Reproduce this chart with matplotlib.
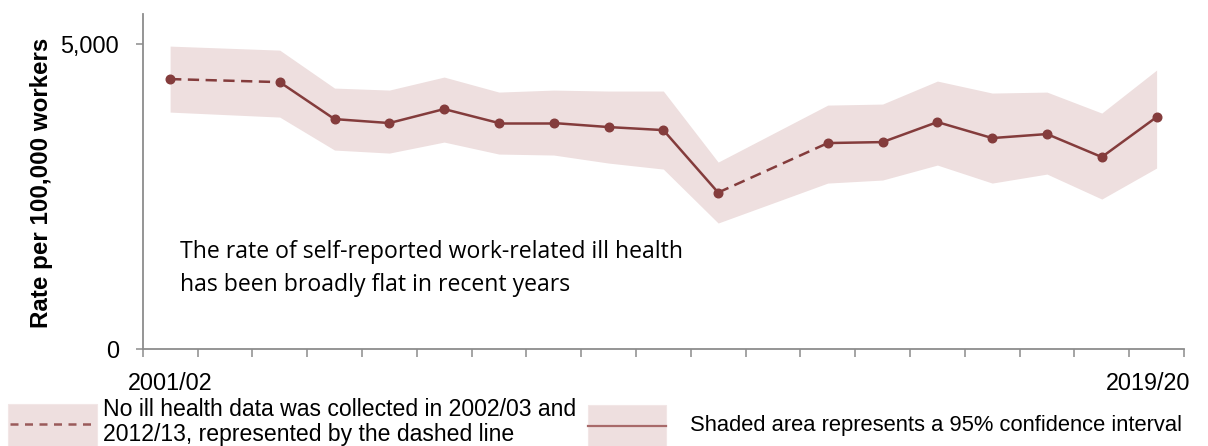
import matplotlib
matplotlib.use("Agg")
import matplotlib.pyplot as plt
import matplotlib.transforms as mtransforms
import numpy as np
from matplotlib.patches import Rectangle
from matplotlib.lines import Line2D

years = ["2001/02", "2002/03", "2003/04", "2004/05", "2005/06", "2006/07", "2007/08",
         "2008/09", "2009/10", "2010/11", "2011/12", "2012/13", "2013/14", "2014/15",
         "2015/16", "2016/17", "2017/18", "2018/19", "2019/20"]
# None = no data collected that year
rate = [4430, None, 4380, 3772, 3707, 3937, 3707, 3707, 3641, 3591, 2564, None,
        3378, 3394, 3723, 3460, 3526, 3148, 3805]
upper = [4972, None, 4906, 4282, 4249, 4463, 4216, 4249, 4233, 4233, 3065, None,
         4002, 4019, 4397, 4200, 4216, 3871, 4578]
lower = [3887, None, 3805, 3263, 3213, 3394, 3197, 3181, 3049, 2950, 2063, None,
         2720, 2770, 3016, 2720, 2868, 2457, 2967]
shown_labels = {0: "2001/02", 18: "2019/20"}

LINE = "#843C3C"
BAND = "#EEDFDF"
AXC = "#8C8C8C"

W, H = 1208, 446
fig = plt.figure(figsize=(W / 100, H / 100), dpi=100)
ax = fig.add_axes([142.7 / W, 1 - 348.5 / H, (1184 - 142.7) / W, (348.5 - 14) / H])

idx = [i for i, v in enumerate(rate) if v is not None]
xs = np.array(idx)
ys = np.array([rate[i] for i in idx])
up = np.array([upper[i] for i in idx])
lo = np.array([lower[i] for i in idx])

ax.fill_between(xs, lo, up, color=BAND, linewidth=0, zorder=1)
for a, b in zip(range(len(xs) - 1), range(1, len(xs))):
    gap = xs[b] - xs[a] > 1
    ax.plot(xs[[a, b]], ys[[a, b]], color=LINE, lw=1.8,
            linestyle=(0, (4.5, 2.6)) if gap else "-", zorder=2, solid_capstyle="butt")
ax.plot(xs, ys, linestyle="none", marker="o", ms=6.2, color=LINE, zorder=3)

ax.set_xlim(-0.5, len(years) - 0.5)
ax.set_ylim(0, 5500)
ax.set_xticks(np.arange(-0.5, len(years), 1.0))
ax.set_xticklabels([])
ax.set_xticks(list(shown_labels.keys()), minor=True)
ax.set_xticklabels(list(shown_labels.values()), minor=True)
ax.tick_params(axis="x", which="major", length=6, width=1.1, color=AXC, direction="out")
ax.tick_params(axis="x", which="minor", length=0, pad=17, labelsize=16.8)
ax.set_yticks([0, 5000])
ax.set_yticklabels(["0", "5,000"])
ax.tick_params(axis="y", length=5, width=1.1, color=AXC, pad=12, labelsize=16.8)
for lab in ax.get_xticklabels(minor=True) + ax.get_yticklabels():
    lab.set_fontfamily("Liberation Sans")
last = ax.get_xticklabels(minor=True)[-1]
last.set_transform(last.get_transform() +
                   mtransforms.ScaledTranslation(-8 / 100, 0, fig.dpi_scale_trans))
for s in ["top", "right"]:
    ax.spines[s].set_visible(False)
for s in ["left", "bottom"]:
    ax.spines[s].set_color(AXC)
    ax.spines[s].set_linewidth(1.3)

fig.text(42 / W, 1 - 183 / H, "Rate per 100,000 workers", rotation=90, ha="center", va="center",
         fontsize=17.4, fontweight="bold", family="Liberation Sans")

ax.text(180 / W, 1 - 252 / H, "The rate of self-reported work-related ill health",
        transform=fig.transFigure, ha="left", va="center", fontsize=16.6, family="Open Sans")
ax.text(180 / W, 1 - 285 / H, "has been broadly flat in recent years",
        transform=fig.transFigure, ha="left", va="center", fontsize=16.6, family="Open Sans")

# legend keys
def fx(x):
    return x / W

def fy(y):
    return 1 - y / H

fig.add_artist(Rectangle((fx(8), fy(446)), fx(97) - fx(8), fy(404) - fy(446),
                         transform=fig.transFigure, facecolor=BAND, edgecolor="#F2E6E6", lw=0.8))
fig.add_artist(Line2D([fx(10), fx(95)], [fy(424), fy(424)], transform=fig.transFigure,
                      color="#9A5A5A", lw=1.8, linestyle=(0, (3.2, 2.6))))
fig.add_artist(Rectangle((fx(588), fy(446)), fx(666) - fx(588), fy(405) - fy(446),
                         transform=fig.transFigure, facecolor=BAND, edgecolor="#F2E6E6", lw=0.8))
fig.add_artist(Line2D([fx(588), fx(666)], [fy(426), fy(426)], transform=fig.transFigure,
                      color="#A86A6A", lw=1.6))

fig.text(fx(103), fy(410), "No ill health data was collected in 2002/03 and",
         ha="left", va="center", fontsize=16.6, family="Liberation Sans")
fig.text(fx(103), fy(435), "2012/13, represented by the dashed line",
         ha="left", va="center", fontsize=16.6, family="Liberation Sans")
fig.text(fx(690), fy(426), "Shaded area represents a 95% confidence interval",
         ha="left", va="center", fontsize=15.8, family="Liberation Sans")

fig.savefig("out.png", dpi=100)
